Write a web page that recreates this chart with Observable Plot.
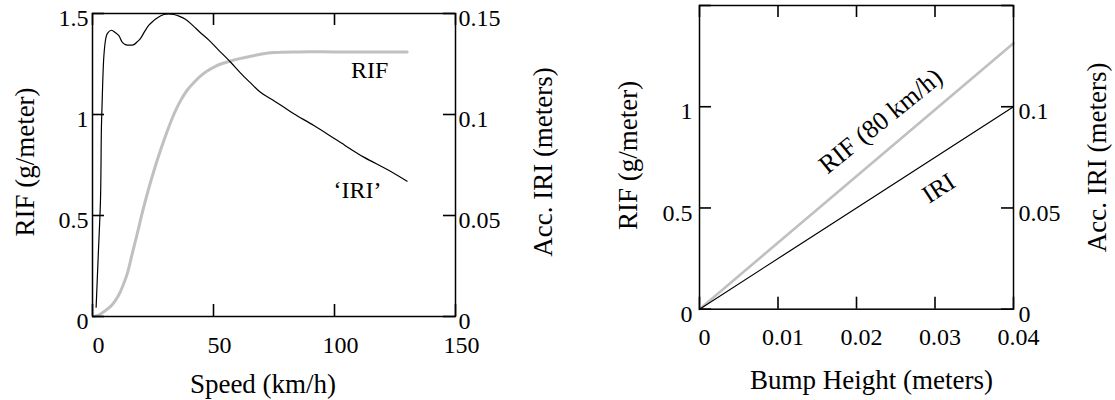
<!DOCTYPE html>
<html>
<head>
<meta charset="utf-8">
<script src="https://cdn.jsdelivr.net/npm/d3@7"></script>
<script src="https://cdn.jsdelivr.net/npm/@observablehq/plot@0.6"></script>
<style>
  body { margin: 0; background: #fff; }
  #wrap { display: flex; width: 1115px; height: 400px; }
  #wrap svg { font-family: "Liberation Serif", "Times New Roman", serif; font-size: 24px; overflow: visible; }
</style>
</head>
<body>
<div id="wrap"></div>
<script>
// ---------- Data: left chart (vs speed) ----------
const rifSpeed = [0.5, 3, 5.4, 7.5, 9.5, 11, 12.3, 14.3, 16.4, 18.5, 20.5, 22.8, 25.6, 28.3, 30.5, 33.6, 36, 39.1, 42, 44.6, 47.4, 51, 55.7, 61.2, 66, 70, 75, 85, 100, 115, 130];
const rifValue = [0, 0.01, 0.03, 0.05, 0.08, 0.11, 0.145, 0.21, 0.31, 0.41, 0.51, 0.615, 0.73, 0.83, 0.905, 1.0, 1.06, 1.12, 1.16, 1.19, 1.215, 1.24, 1.26, 1.278, 1.29, 1.3, 1.307, 1.31, 1.31, 1.31, 1.31];

const iriSpeed = [1.5, 2.4, 3.3, 3.7, 4.2, 4.7, 5.4, 6.1, 7.8, 9.5, 10.9, 12.2, 13.6, 15.5, 17.1, 18.5, 19.8, 21.5, 23.3, 25, 26.7, 29.5, 31.5, 33.6, 36, 38.4, 41.5, 44.6, 48.1, 52, 57, 61.2, 65, 69.4, 74, 78, 83, 91.5, 101.1, 112.1, 121.8, 130];
const iriValue = [0.0046, 0.031, 0.0575, 0.0946, 0.115, 0.129, 0.137, 0.140, 0.1417, 0.1405, 0.139, 0.136, 0.1346, 0.1343, 0.1346, 0.136, 0.1376, 0.141, 0.1442, 0.1462, 0.1478, 0.1495, 0.1498, 0.1495, 0.1486, 0.1472, 0.144, 0.1405, 0.1368, 0.132, 0.126, 0.1205, 0.116, 0.111, 0.1075, 0.1045, 0.1005, 0.0945, 0.0872, 0.0789, 0.0728, 0.067];

// ---------- Data: right chart (vs bump height) ----------
const bumpRif = [0, 0.04];
const rif80Value = [0, 1.314];
const bumpIri = [0, 0.02, 0.04];
const iriBumpValue = [0, 0.05, 0.1];

// ---------- Tick values / labels ----------
const speedTicks = [0, 50, 100, 150];
const speedTickLabels = ["0", "50", "100", "150"];
const rifTicksA = [0, 0.5, 1, 1.5];
const rifTickLabelsA = ["0", "0.5", "1", "1.5"];
const iriTicksA = [0, 0.05, 0.1, 0.15];
const iriTickLabelsA = ["0", "0.05", "0.1", "0.15"];
const bumpTicks = [0, 0.01, 0.02, 0.03, 0.04];
const bumpTickLabels = ["0", "0.01", "0.02", "0.03", "0.04"];
const rifTicksB = [0, 0.5, 1];
const rifTickLabelsB = ["0", "0.5", "1"];
const iriTicksB = [0, 0.05, 0.1];
const iriTickLabelsB = ["0", "0.05", "0.1"];

// secondary axis ratio: RIF units per IRI metre
const iriToRif = 10;

const rifData = rifSpeed.map((s, i) => ({speed: s, rif: rifValue[i]}));
const iriData = iriSpeed.map((s, i) => ({speed: s, iri: iriValue[i]}));
const rif80Data = bumpRif.map((h, i) => ({h, rif: rif80Value[i]}));
const iriBumpData = bumpIri.map((h, i) => ({h, iri: iriBumpValue[i]}));

const lookup = (values, labels) => d => {
  const i = values.findIndex(v => Math.abs(v - d) < 1e-9);
  return i < 0 ? "" : labels[i];
};

// inward tick marks: short rules inset so 12px remain at each frame edge
const TICK = 12;
function tickMarks(xTicks, yTicks, fw, fh) {
  const o = {stroke: "black", strokeWidth: 1.6};
  return [
    Plot.ruleX(xTicks, {...o, x: d => d, insetTop: fh - TICK}),
    Plot.ruleX(xTicks, {...o, x: d => d, insetBottom: fh - TICK}),
    Plot.ruleY(yTicks, {...o, y: d => d, insetRight: fw - TICK}),
    Plot.ruleY(yTicks, {...o, y: d => d, insetLeft: fw - TICK})
  ];
}
const titleOpts = {textAnchor: "middle", lineAnchor: "middle", fontSize: 27};

// ---------- Left chart ----------
const L = {width: 557, height: 400, marginLeft: 92, marginRight: 102, marginTop: 13, marginBottom: 84};
const iriTicksAScaled = iriTicksA.map(v => v * iriToRif);
const left = Plot.plot({
  ...L,
  x: {domain: [0, 150], label: null},
  y: {domain: [0, 1.5], label: null},
  marks: [
    Plot.line(rifData, {x: "speed", y: "rif", stroke: "#c0c0c0", strokeWidth: 3, curve: "catmull-rom"}),
    Plot.line(iriData, {x: "speed", y: d => d.iri * iriToRif, stroke: "black", strokeWidth: 1.2, curve: "catmull-rom"}),
    Plot.frame({stroke: "black", strokeWidth: 1.5}),
    ...tickMarks(speedTicks, rifTicksA, L.width - L.marginLeft - L.marginRight, L.height - L.marginTop - L.marginBottom),
    Plot.axisX(speedTicks, {anchor: "bottom", tickSize: 0, tickPadding: 19, dx: 6, label: null, fontSize: 24, tickFormat: lookup(speedTicks, speedTickLabels)}),
    Plot.axisY(rifTicksA, {anchor: "left", tickSize: 0, tickPadding: 4, dy: 5, label: null, fontSize: 24, tickFormat: lookup(rifTicksA, rifTickLabelsA)}),
    Plot.axisY(iriTicksAScaled, {anchor: "right", tickSize: 0, tickPadding: 3, dy: 5, label: null, fontSize: 24, tickFormat: lookup(iriTicksAScaled, iriTickLabelsA)}),
    Plot.text(["RIF"], {x: 114.5, y: 1.219, fontSize: 24}),
    Plot.text(["\u2018IRI\u2019"], {x: 109.5, y: 0.624, fontSize: 24}),
    Plot.text(["RIF (g/meter)"], {...titleOpts, frameAnchor: "left", rotate: -90, dx: -67, dy: -3}),
    Plot.text(["Acc. IRI (meters)"], {...titleOpts, frameAnchor: "right", rotate: -90, dx: 88, dy: -3}),
    Plot.text(["Speed (km/h)"], {...titleOpts, frameAnchor: "bottom", dx: -11, dy: 67.5})
  ]
});

// ---------- Right chart ----------
const R = {width: 558, height: 400, marginLeft: 142, marginRight: 102, marginTop: 5, marginBottom: 91.3};
const iriTicksBScaled = iriTicksB.map(v => v * iriToRif);
const right = Plot.plot({
  ...R,
  x: {domain: [0, 0.04], label: null},
  y: {domain: [0, 1.5], label: null},
  marks: [
    Plot.line(rif80Data, {x: "h", y: "rif", stroke: "#c0c0c0", strokeWidth: 2.6}),
    Plot.line(iriBumpData, {x: "h", y: d => d.iri * iriToRif, stroke: "black", strokeWidth: 1.2}),
    Plot.frame({stroke: "black", strokeWidth: 1.5}),
    ...tickMarks(bumpTicks, rifTicksA, R.width - R.marginLeft - R.marginRight, R.height - R.marginTop - R.marginBottom),
    Plot.axisX(bumpTicks, {anchor: "bottom", tickSize: 0, tickPadding: 19, dx: 5, label: null, fontSize: 24, tickFormat: lookup(bumpTicks, bumpTickLabels)}),
    Plot.axisY(rifTicksB, {anchor: "left", tickSize: 0, tickPadding: 7, dy: 5, label: null, fontSize: 24, tickFormat: lookup(rifTicksB, rifTickLabelsB)}),
    Plot.axisY(iriTicksBScaled, {anchor: "right", tickSize: 0, tickPadding: 5, dy: 5, label: null, fontSize: 24, tickFormat: lookup(iriTicksBScaled, iriTickLabelsB)}),
    Plot.text(["RIF (80 km/h)"], {x: 0.02306, y: 0.929, rotate: -39, fontSize: 26}),
    Plot.text(["IRI"], {x: 0.03045, y: 0.5975, rotate: -33, fontSize: 25}),
    Plot.text(["RIF (g/meter)"], {...titleOpts, frameAnchor: "left", rotate: -90, dx: -71, dy: -2}),
    Plot.text(["Acc. IRI (meters)"], {...titleOpts, frameAnchor: "right", rotate: -90, dx: 84, dy: 0}),
    Plot.text(["Bump Height (meters)"], {...titleOpts, frameAnchor: "bottom", dx: 15, dy: 71})
  ]
});

document.getElementById("wrap").append(left, right);
</script>
</body>
</html>
